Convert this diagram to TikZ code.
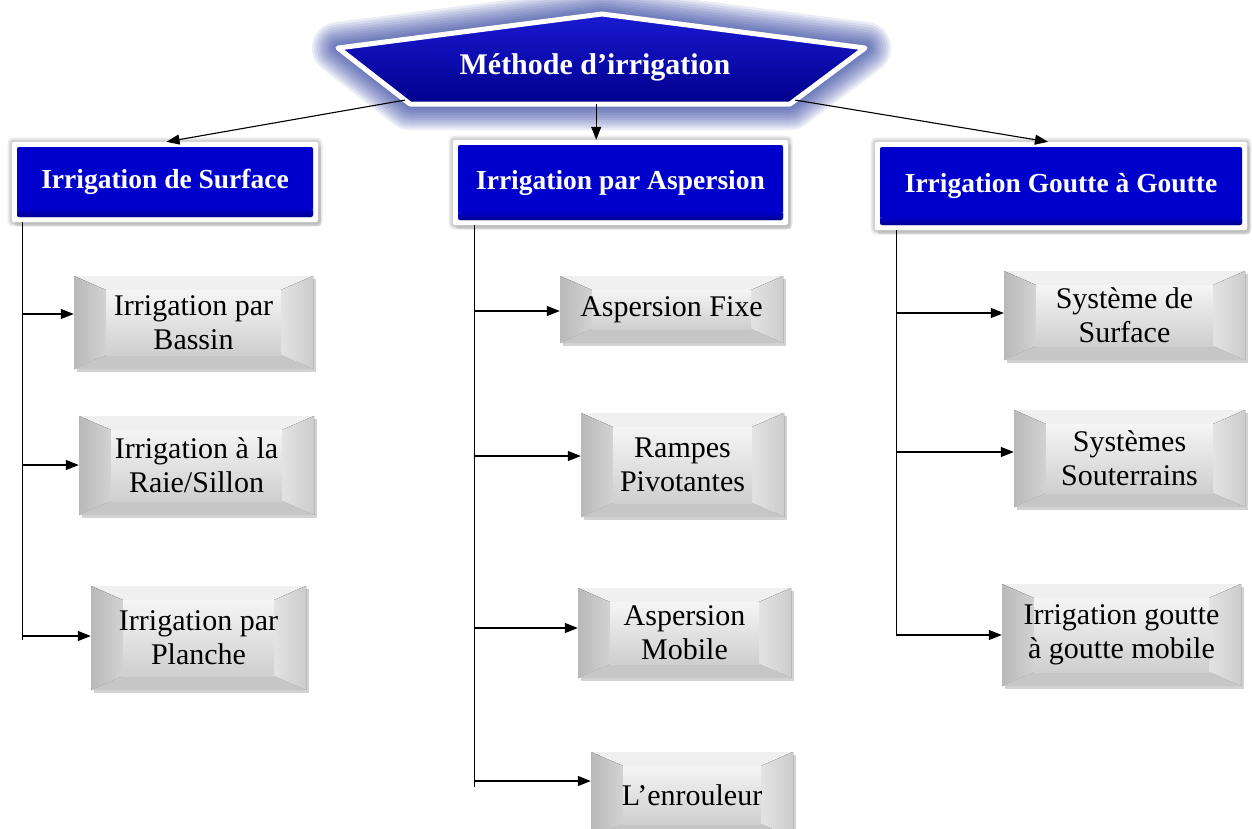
\documentclass[tikz,border=0pt]{standalone}
\usepackage{fontspec}
\setmainfont{Liberation Serif}
\usetikzlibrary{arrows.meta,shadows,calc}
\definecolor{boxblue}{RGB}{0,0,205}
\definecolor{boxbluedark}{RGB}{0,0,140}
\definecolor{glowblue}{RGB}{20,40,150}
\tikzset{
  arr/.style={-{Triangle[length=13pt,width=10pt]}, line width=1.1pt, black},
  spine/.style={line width=1pt, black},
  bluebox/.style={rectangle, fill=white, text=white, rounded corners=2pt,
    font=\bfseries\fontsize{27.5}{31}\selectfont, inner sep=0pt,
    preaction={draw=black, opacity=0.08, line width=9pt},
    preaction={draw=black, opacity=0.10, line width=5pt},
    drop shadow={shadow xshift=3pt, shadow yshift=-4pt, opacity=0.25, fill=gray},
    path picture={
      \fill[boxblue] ($(path picture bounding box.south west)+(5pt,5pt)$) rectangle ($(path picture bounding box.north east)+(-5pt,-5pt)$);
      \fill[top color=boxblue, bottom color=boxbluedark]
      ($(path picture bounding box.south west)+(5pt,13pt)$) rectangle ($(path picture bounding box.south east)+(-5pt,5pt)$);}},
  graybox/.style={rectangle, inner sep=0pt, align=center, text=black,
    font=\fontsize{30}{34}\selectfont,
    drop shadow={shadow xshift=3pt, shadow yshift=-3pt, opacity=0.35, fill=gray},
    path picture={
      \path (path picture bounding box.north west) coordinate (q1)
            (path picture bounding box.north east) coordinate (q2)
            (path picture bounding box.south east) coordinate (q3)
            (path picture bounding box.south west) coordinate (q4);
      \path ($(q1)+(32pt,-14pt)$) coordinate (r1)
            ($(q2)+(-32pt,-14pt)$) coordinate (r2)
            ($(q3)+(-32pt,14pt)$) coordinate (r3)
            ($(q4)+(32pt,14pt)$) coordinate (r4);
      \fill[gray!10] (q1)--(q2)--(q3)--(q4)--cycle;
      \fill[gray!12] (q1)--(q2)--(r2)--(r1)--cycle;
      \fill[left color=gray!55, right color=gray!35] (q1)--(r1)--(r4)--(q4)--cycle;
      \fill[left color=gray!22, right color=gray!40] (q2)--(q3)--(r3)--(r2)--cycle;
      \fill[gray!45] (q4)--(r4)--(r3)--(q3)--cycle;
      \fill[top color=gray!8, bottom color=gray!38] (r1)--(r2)--(r3)--(r4)--cycle;
    }},
}
\begin{document}
\begin{tikzpicture}[x=1pt,y=-1pt]
\fill[white] (0,0) rectangle (1252,828);
\useasboundingbox (0,0) rectangle (1252,828);

% title shape
\coordinate (L) at (338,48);
\coordinate (T) at (602,14);
\coordinate (R) at (865,48);
\coordinate (BR) at (790,104);
\coordinate (BL) at (410,104);
\foreach \w in {52,47,...,7}
  \draw[line width=\w pt, glowblue, opacity=0.09, line join=round] (L)--(T)--(R)--(BR)--(BL)--cycle;
\draw[white, line width=5pt, line join=round, top color=boxblue!90!white, bottom color=boxbluedark]
  (L)--(T)--(R)--(BR)--(BL)--cycle;
\node[text=white, font=\bfseries\fontsize{30}{34}\selectfont] (title) at (595,67) {Méthode d’irrigation};

% level 1
\node[bluebox, minimum width=306pt, minimum height=80pt] (surf) at (165,182) {Irrigation de Surface};
\node[bluebox, minimum width=335pt, minimum height=85pt] (asp) at (620.5,182.5) {Irrigation par Aspersion};
\node[bluebox, minimum width=372pt, minimum height=88pt] (gg) at (1061,186) {Irrigation Goutte à Goutte};

% connectors from title
\coordinate (tl) at ($(BL)!0.07!(L)$);
\coordinate (tm) at ($(BL)!0.49!(BR)$);
\coordinate (tr) at ($(BR)!0.07!(R)$);
\draw[arr] (tl) -- ($(surf.north west)!0.505!(surf.north east)$);
\draw[arr] (tm) -- (tm |- asp.north);
\draw[arr] (tr) -- ($(gg.north west)!0.465!(gg.north east)$);

% gray boxes
\node[graybox, minimum width=239pt, minimum height=93pt] (bassin) at (193.5,322.5) {Irrigation par\\Bassin};
\node[graybox, minimum width=235pt, minimum height=99pt] (raie) at (196.5,465.5) {Irrigation à la\\Raie/Sillon};
\node[graybox, minimum width=215pt, minimum height=104pt] (planche) at (198.5,638) {Irrigation par\\Planche};

\node[graybox, minimum width=223pt, minimum height=67pt] (fixe) at (671.5,309.5) {Aspersion Fixe};
\node[graybox, minimum width=203pt, minimum height=104pt] (rampes) at (682.5,465) {Rampes\\Pivotantes};
\node[graybox, minimum width=213pt, minimum height=90pt] (mobile) at (684.5,633) {Aspersion\\Mobile};
\node[graybox, minimum width=202pt, minimum height=86pt] (enrouleur) at (692,795) {L’enrouleur};

\node[graybox, minimum width=241pt, minimum height=89pt] (syssurf) at (1124.5,315.5) {Système de\\Surface};
\node[graybox, minimum width=231pt, minimum height=97pt] (sout) at (1129.5,458.5) {Systèmes\\Souterrains};
\node[graybox, minimum width=239pt, minimum height=102pt] (gmob) at (1121.5,635) {Irrigation goutte\\à goutte mobile};

% spines
\coordinate (sL) at (22,640);
\coordinate (sM) at (474,787);
\coordinate (sR) at (896,636);
\draw[spine] (sL |- surf.south) -- (sL);
\draw[spine] (sM |- asp.south) -- (sM);
\draw[spine] (sR |- gg.south) -- (sR);

% branch arrows
\coordinate (a1) at (22,314);
\coordinate (a2) at (22,465);
\coordinate (a3) at (22,636);
\coordinate (b1) at (474,311);
\coordinate (b2) at (474,456);
\coordinate (b3) at (474,628);
\coordinate (b4) at (474,781);
\coordinate (c1) at (896,313);
\coordinate (c2) at (896,452);
\coordinate (c3) at (896,635);
\draw[arr] (a1) -- (a1 -| bassin.west);
\draw[arr] (a2) -- (a2 -| raie.west);
\draw[arr] (a3) -- (a3 -| planche.west);
\draw[arr] (b1) -- (b1 -| fixe.west);
\draw[arr] (b2) -- (b2 -| rampes.west);
\draw[arr] (b3) -- (b3 -| mobile.west);
\draw[arr] (b4) -- (b4 -| enrouleur.west);
\draw[arr] (c1) -- (c1 -| syssurf.west);
\draw[arr] (c2) -- (c2 -| sout.west);
\draw[arr] (c3) -- (c3 -| gmob.west);
\end{tikzpicture}
\end{document}
